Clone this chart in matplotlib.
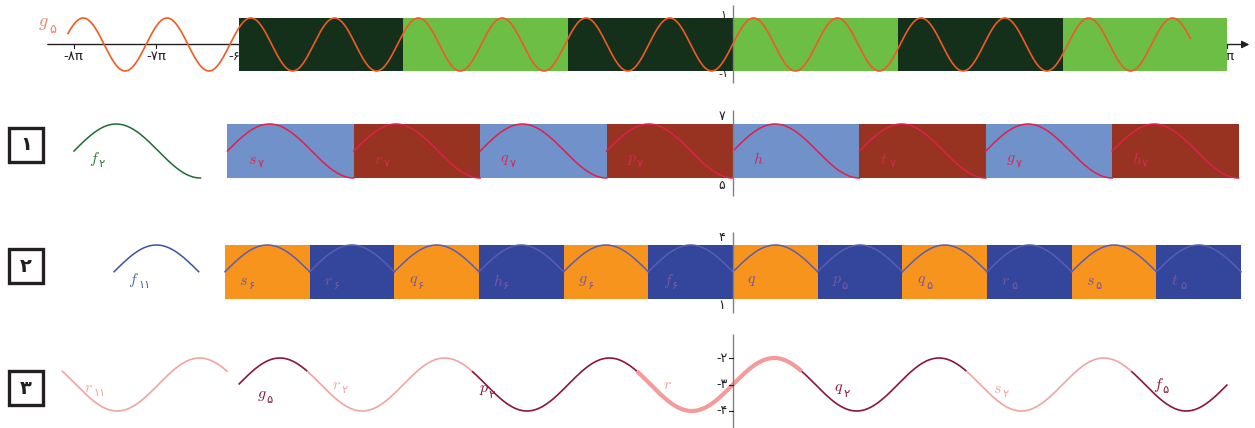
import numpy as np
import matplotlib.pyplot as plt
from matplotlib.patches import Rectangle

PI = np.pi
W, H = 1255, 428

# ---- row 0 : g5 over green strip
top_edges = np.arange(-6, 7, 2) * PI
top_colors = ['#15301a', '#6dbe45'] * 3
top_ticks = np.array([-8, -7, -6, 6]) * PI
top_tick_labels = ['-۸π', '-۷π', '-۶π', '۶π']
g5_freq, g5_phase = 1.967, 0.032
g5_from, g5_to = -8.07 * PI, 5.55 * PI

# ---- row 1 : pieces of f2 (sin on [0, 3pi/2])
row1_edges = np.arange(-6, 6.1, 1.5) * PI
row1_colors = ['#7091c9', '#973320'] * 4
row1_names = [('s', '۷'), ('r', '۷'), ('q', '۷'), ('p', '۷'),
              ('h', ''), ('t', '۷'), ('g', '۷'), ('h', '۷')]
row1_low, row1_mid, row1_high = 5, 6, 7
f2_from = -7.82 * PI

# ---- row 2 : pieces of f11 (sin on [0, pi])
row2_edges = np.arange(-6, 7, 1) * PI
row2_colors = ['#f7941d', '#34469c'] * 6
row2_names = [('s', '۶'), ('r', '۶'), ('q', '۶'), ('h', '۶'), ('g', '۶'), ('f', '۶'),
              ('q', ''), ('p', '۵'), ('q', '۵'), ('r', '۵'), ('s', '۵'), ('t', '۵')]
row2_low, row2_mid, row2_high = 1, 2.5, 4
f11_from = -7.31 * PI

# ---- row 3 : -3 + sin(x) cut in pieces
row3_breaks = np.array([-6, -31 / 6, -19 / 6, -7 / 6, 5 / 6, 17 / 6, 29 / 6, 6]) * PI
row3_kind = ['dark', 'light', 'dark', 'thick', 'dark', 'light', 'dark']
row3_names = [('g', '۵'), ('r', '۲'), ('p', '۲'), ('r', ''), ('q', '۲'), ('s', '۲'), ('f', '۵')]
row3_ticks = [-2, -3, -4]
row3_tick_labels = ['-۲', '-۳', '-۴']
r11_from = -8.14 * PI

# label placement (layout only)
row3_label_x = np.array([-5.78, -4.87, -3.08, -0.85, 1.22, 3.15, 5.10]) * PI
row3_label_y = [-3.4, -3.0, -3.2, -3.0, -3.15, -3.15, -3.0]

plt.rcParams['font.family'] = ['DejaVu Sans']
fig = plt.figure(figsize=(W / 100, H / 100), dpi=100)


def row_axes(x0, xs, y0, ys, yval):
    # full-figure transparent axes: pixel x0 -> 0, pixel y0 -> yval
    ax = fig.add_axes([0, 0, 1, 1], label='r%d' % y0)
    ax.set_xlim(-x0 / xs, (W - x0) / xs)
    ax.set_ylim(yval - (H - y0) / ys, yval + y0 / ys)
    ax.axis('off')
    ax.patch.set_alpha(0)
    return ax


def name(ax, x, y, letter, sub, color, size=11.5):
    ax.text(x, y, '$' + letter + '$', color=color, fontsize=size, math_fontfamily='cm',
            ha='left', va='center', zorder=6)
    if sub:
        ax.annotate(sub, (x, y), xytext=(size * 0.6, -size * 0.32), textcoords='offset points',
                    color=color, fontsize=size * 0.72, ha='left', va='center', zorder=6)


def vaxis(ax, y_top, y_bot, color='#808080'):
    ax.plot([0, 0], [y_bot, y_top], color=color, lw=1.0, zorder=7, solid_capstyle='butt')


X0 = 733
xs0 = 82.4 / PI

# row 0
ax0 = row_axes(X0, xs0, 44.5, 26.5, 0)
for a, b, c in zip(top_edges[:-1], top_edges[1:], top_colors):
    ax0.add_patch(Rectangle((a, -1), b - a, 2, color=c, lw=0, zorder=2))
ax0.annotate('', xy=(6.3 * PI, 0), xytext=(-8.35 * PI, 0),
             arrowprops=dict(arrowstyle='-|>', color='#231f20', lw=1.0, mutation_scale=11),
             zorder=1)
for t, lab in zip(top_ticks, top_tick_labels):
    ax0.plot([t, t], [0, -0.12], color='#231f20', lw=0.8, zorder=1)
    ax0.text(t, -0.2, lab, ha='center', va='top', fontsize=9.5, color='#231f20', zorder=1)
ax0.text(-0.12 * PI, 1.1, '۱', ha='center', va='center', fontsize=8, color='#231f20', zorder=1)
ax0.text(-0.12 * PI, -1.12, '-۱', ha='center', va='center', fontsize=8, color='#231f20', zorder=1)
xg = np.linspace(g5_from, g5_to, 1500)
ax0.plot(xg, np.sin(g5_freq * xg + g5_phase), color='#f05a24', lw=1.2, zorder=4)
vaxis(ax0, 1.49, -1.45)
name(ax0, -8.43 * PI, 0.8, 'g', '۵', '#f58064', size=13)

# row 1
xs1 = 126.4 / (1.5 * PI)
ax1 = row_axes(X0, xs1, 151, 27, row1_mid)
for a, b, c, (l, s) in zip(row1_edges[:-1], row1_edges[1:], row1_colors, row1_names):
    ax1.add_patch(Rectangle((a, row1_low), b - a, row1_high - row1_low, color=c, lw=0, zorder=2))
    x = np.linspace(a, b, 200)
    ax1.plot(x, row1_mid + np.sin(x - a), color='#e0204b', lw=1.1, zorder=4)
    name(ax1, a + 0.24 * PI, 5.7, l, s, '#d62a55')
x = np.linspace(f2_from, f2_from + 1.5 * PI, 200)
ax1.plot(x, row1_mid + np.sin(x - f2_from), color='#1e6b34', lw=1.1, zorder=4)
name(ax1, -7.64 * PI, 5.7, 'f', '۲', '#2f7a40')
vaxis(ax1, 7.5, 4.35)
ax1.text(-0.3, row1_high + 0.02, '۷', ha='right', va='bottom', fontsize=9, color='#231f20', zorder=1)
ax1.text(-0.3, row1_low - 0.02, '۵', ha='right', va='top', fontsize=9, color='#231f20', zorder=1)

# row 2
xs2 = 84.67 / PI
ax2 = row_axes(X0, xs2, 298.5, 53.5 / 3, row2_low)
amp2 = row2_high - row2_mid
for a, b, c, (l, s) in zip(row2_edges[:-1], row2_edges[1:], row2_colors, row2_names):
    ax2.add_patch(Rectangle((a, row2_low), b - a, row2_high - row2_low, color=c, lw=0, zorder=2))
    x = np.linspace(a, b, 150)
    ax2.plot(x, row2_mid + amp2 * np.sin(x - a), color='#5a5db0', lw=1.1, zorder=4)
    name(ax2, a + 0.17 * PI, 2.0, l, s, '#765aa0')
x = np.linspace(f11_from, f11_from + PI, 150)
ax2.plot(x, row2_mid + amp2 * np.sin(x - f11_from), color='#3c50a5', lw=1.1, zorder=4)
name(ax2, -7.14 * PI, 2.05, 'f', '۱۱', '#5065b0')
vaxis(ax2, 4.75, 0.2)
ax2.text(-0.3, row2_high + 0.05, '۴', ha='right', va='bottom', fontsize=9, color='#231f20', zorder=1)
ax2.text(-0.3, row2_low - 0.05, '۱', ha='right', va='top', fontsize=9, color='#231f20', zorder=1)

# row 3
ax3 = row_axes(X0, xs0, 384.5, 26.5, -3)
styles = {'dark': ('#8c1639', 1.2), 'light': ('#f4a3a3', 1.2), 'thick': ('#f39a9a', 3.0)}
for a, b, k, (l, s), lx, ly in zip(row3_breaks[:-1], row3_breaks[1:], row3_kind,
                                   row3_names, row3_label_x, row3_label_y):
    col, lw = styles[k]
    x = np.linspace(a, b, 300)
    ax3.plot(x, -3 + np.sin(x), color=col, lw=lw, zorder=4, solid_capstyle='butt')
    name(ax3, lx, ly, l, s, col)
t = np.linspace(5 / 6 * PI, 17 / 6 * PI, 300)
ax3.plot(r11_from + t - t[0], -3 + np.sin(t), color='#f4a3a3', lw=1.2, zorder=4)
name(ax3, -7.88 * PI, -3.13, 'r', '۱۱', '#f4a3a3')
vaxis(ax3, -1.1, -4.7)
for v, lab in zip(row3_ticks, row3_tick_labels):
    ax3.plot([-0.05 * PI, 0], [v, v], color='#231f20', lw=0.8, zorder=7)
    ax3.text(-0.07 * PI, v, lab, ha='right', va='center', fontsize=9, color='#231f20')

# numbered boxes
ov = fig.add_axes([0, 0, 1, 1], label='ov')
ov.set_xlim(0, W)
ov.set_ylim(H, 0)
ov.axis('off')
ov.patch.set_alpha(0)
for num, ytop in zip(['۱', '۲', '۳'], [128, 249, 371]):
    ov.add_patch(Rectangle((9, ytop), 34, 34, fill=False, ec='#231f20', lw=2.4))
    ov.text(26, ytop + 17, num, ha='center', va='center', fontsize=14, fontweight='bold',
            color='#231f20')

fig.savefig('out.png', dpi=100)
